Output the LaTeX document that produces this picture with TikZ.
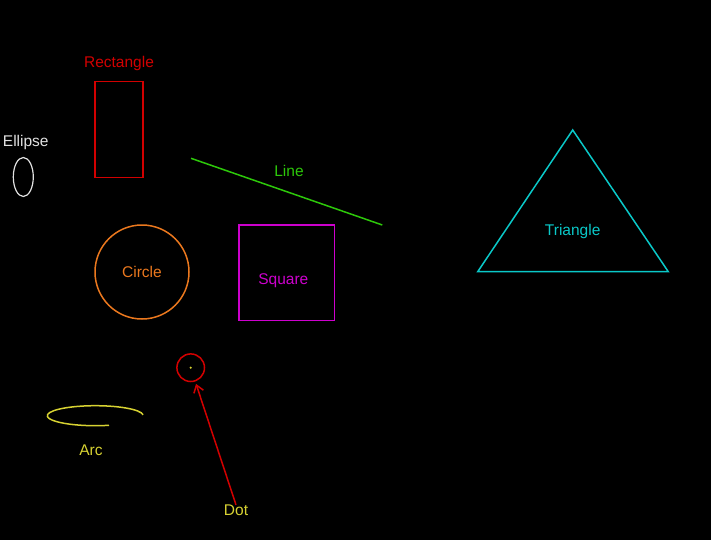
\documentclass[tikz,border=0pt]{standalone}
\usepackage{fontspec}
\setmainfont{Liberation Sans}
\usepackage{tikz}
\usetikzlibrary{positioning}
\usetikzlibrary{arrows.meta}
\usetikzlibrary{shapes}
\definecolor{shapered}{RGB}{210,0,0}
\definecolor{shapegreen}{RGB}{45,200,10}
\definecolor{shapeorange}{RGB}{235,120,30}
\definecolor{shapemagenta}{RGB}{205,0,205}
\definecolor{shapecyan}{RGB}{10,200,200}
\definecolor{shapeyellow}{RGB}{215,210,50}
\definecolor{shapewhite}{RGB}{225,225,225}
\tikzset{shape line/.style={draw,line width=1.5pt,inner sep=0pt},
	label text/.style={font=\fontsize{15.5}{18}\selectfont,inner sep=0pt},}

\begin{document}
\begin{tikzpicture}[x=1pt, y=-1pt, >={Straight Barb[length=7pt,width=10pt]}]
	\fill[black] (0,0) rectangle (711,540);
	\useasboundingbox (0,0) rectangle (711,540);

	\node[shape line, shapered, minimum width=48pt, minimum height=95.5pt] (rect) at (119,129.5) {};
	\node[label text, shapered] (rectlabel) [above = 10pt of rect] {Rectangle};

	\node[shape line, shapewhite, ellipse, minimum width=20pt, minimum height=39pt, line width=1.2pt] (ell) at (23.3,177) {};
	\node[label text, shapewhite, xshift=2.5pt] (elllabel) [above = 7pt of ell] {Ellipse};

	\coordinate (linea) at (191,158.3);
	\coordinate (lineb) at (382.3,225);
	\draw[shapegreen, line width=1.5pt] (linea) -- (lineb);
	\node[label text, shapegreen] (linelabel) at (289,171.2) {Line};

	\node[shape line, shapeorange, circle, minimum size=94pt] (circ) at (142,272) {};
	\node[label text, shapeorange] (circlabel) at (circ) {Circle};

	\node[shape line, shapemagenta, minimum size=95.5pt] (sq) at (286.5,272.5) {};
	\node[label text, shapemagenta] (sqlabel) at (283.3,280.8) {Square};

	\coordinate (tria) at (572.7,130);
	\coordinate (trib) at (477.7,271.7);
	\coordinate (tric) at (668.3,271.7);
	\draw[shapecyan, line width=1.5pt, line join=miter] (tria) -- (trib) -- (tric) -- cycle;
	\node[label text, shapecyan] (trilabel) at (572.7,231) {Triangle};

	% arc, open at the bottom right
	\draw[shapeyellow, line width=1.5pt] (95.3,415.7) ++(-5:48 and 10) arc[start angle=-5, end angle=-286.6, x radius=48, y radius=10];
	\node[label text, shapeyellow] (arclabel) at (91,450.5) {Arc};

	\node[shape line, shapered, circle, minimum size=27.6pt] (dotring) at (190.7,367.7) {};
	\fill[shapeyellow] (dotring.center) circle (1.2pt);
	\node[label text, shapeyellow] (dotlabel) at (236,510.5) {Dot};
	\draw[->, shapered, line width=1.5pt, shorten >=2.5pt] (dotlabel.north) -- (dotring);
\end{tikzpicture}
\end{document}
